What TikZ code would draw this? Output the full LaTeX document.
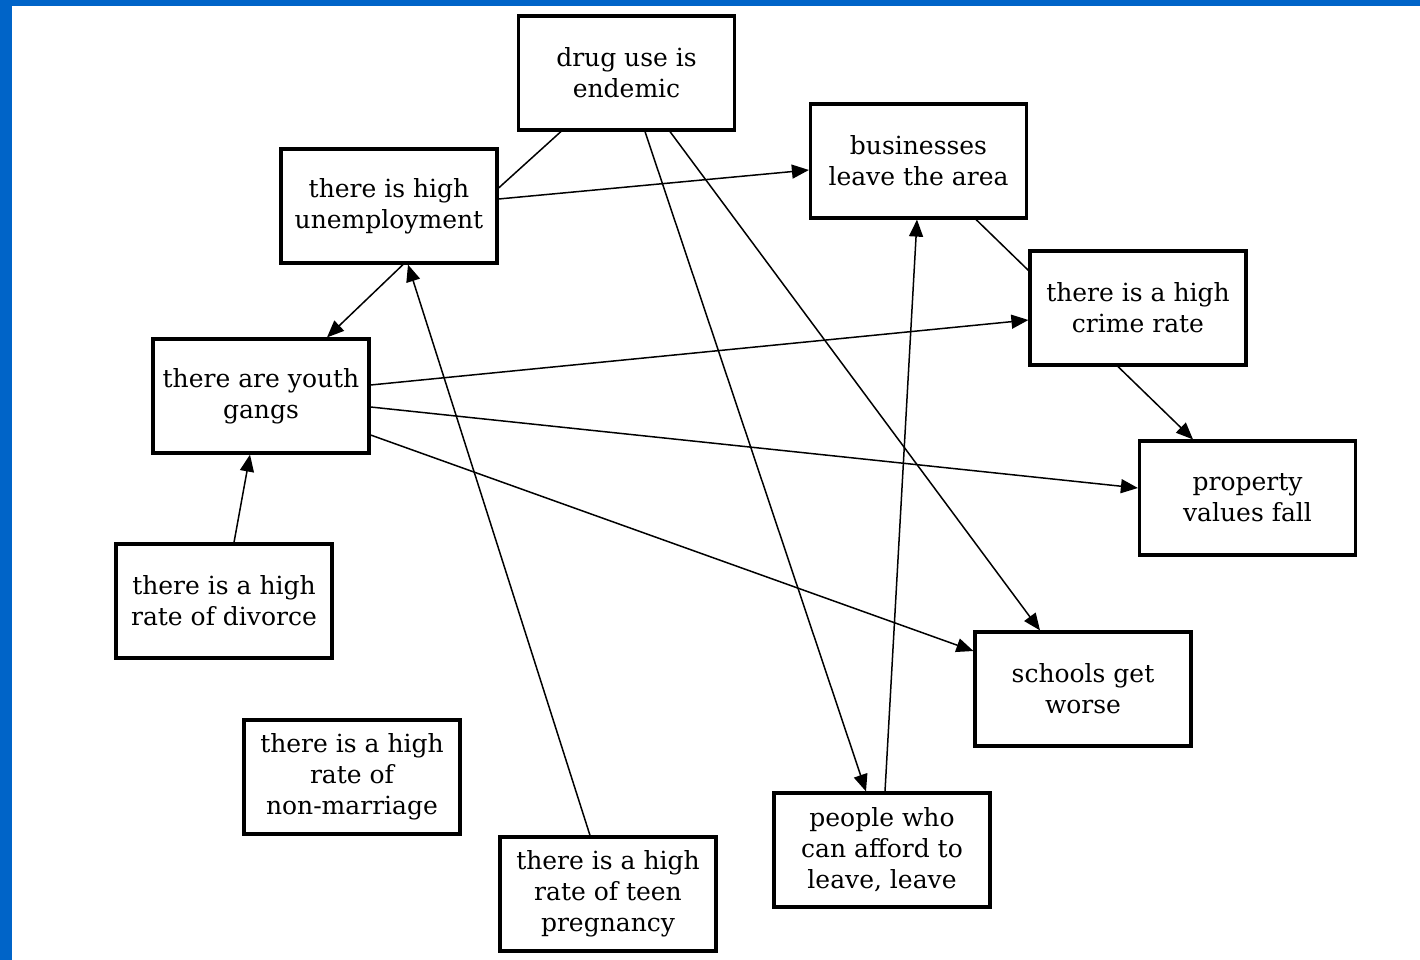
\documentclass[tikz,border=0pt]{standalone}
\usepackage{fontspec}
\setmainfont{DejaVu Serif}
\usetikzlibrary{calc,arrows.meta}
\definecolor{frameblue}{RGB}{0,100,200}
\begin{document}
\begin{tikzpicture}[x=1pt,y=-1pt,
  causebox/.style={draw=black,line width=3.2pt,fill=white,minimum width=216pt,minimum height=114pt,
    inner sep=0pt,align=center,font=\fontsize{25}{31}\selectfont},
  link/.style={line width=1.5pt},
  cause/.style={link,-{Triangle[length=17pt,width=14pt]}}]
\useasboundingbox (0,0) rectangle (1420,960);
\fill[white] (0,0) rectangle (1420,960);
\fill[frameblue] (0,0) rectangle (12,960);
\fill[frameblue] (0,0) rectangle (1420,6);

\node[causebox] (drug) at (626.5,73) {drug use is\\endemic};
\node[causebox] (unemp) at (389,206) {there is high\\unemployment};
\node[causebox] (biz) at (918.5,161) {businesses\\leave the area};
\node[causebox] (crime) at (1138,308) {there is a high\\crime rate};
\node[causebox] (gangs) at (261,396) {there are youth\\gangs};
\node[causebox] (prop) at (1247.5,498) {property\\values fall};
\node[causebox] (divorce) at (224,601) {there is a high\\rate of divorce};
\node[causebox] (schools) at (1083,689) {schools get\\worse};
\node[causebox] (nonmarr) at (352,777) {there is a high\\rate of\\non-marriage};
\node[causebox] (teen) at (608,894) {there is a high\\rate of teen\\pregnancy};
\node[causebox] (people) at (882,850) {people who\\can afford to\\leave, leave};

% plain links
\draw[link] ($(drug.south west)+(44,0)$) -- ($(unemp.east)+(0,-18)$);
\draw[link] ($(biz.south east)+(-52,0)$) -- ($(crime.north west)+(0,21)$);

% causal arrows
\draw[cause] ($(unemp.east)+(0,-7)$) -- ($(biz.west)+(0,9)$);
\draw[cause] ($(drug.south)+(18.5,0)$) -- ($(people.north)+(-16,0)$);
\draw[cause] ($(drug.south)+(43.5,0)$) -- ($(schools.north)+(-43,0)$);
\draw[cause] ($(people.north)+(3,0)$) -- ($(biz.south)+(-1.5,0)$);
\draw[cause] ($(teen.north)+(-18,0)$) -- ($(unemp.south)+(19,0)$);
\draw[cause] ($(unemp.south)+(14,0)$) -- ($(gangs.north)+(66,0)$);
\draw[cause] ($(gangs.east)+(0,-11)$) -- ($(crime.west)+(0,12)$);
\draw[cause] ($(gangs.east)+(0,11)$) -- ($(prop.west)+(0,-10)$);
\draw[cause] ($(gangs.east)+(0,39)$) -- ($(schools.west)+(0,-38)$);
\draw[cause] ($(divorce.north)+(10,0)$) -- ($(gangs.south)+(-11,0)$);
\draw[cause] ($(crime.south)+(-20,0)$) -- ($(prop.north)+(-54.5,0)$);
\end{tikzpicture}
\end{document}
